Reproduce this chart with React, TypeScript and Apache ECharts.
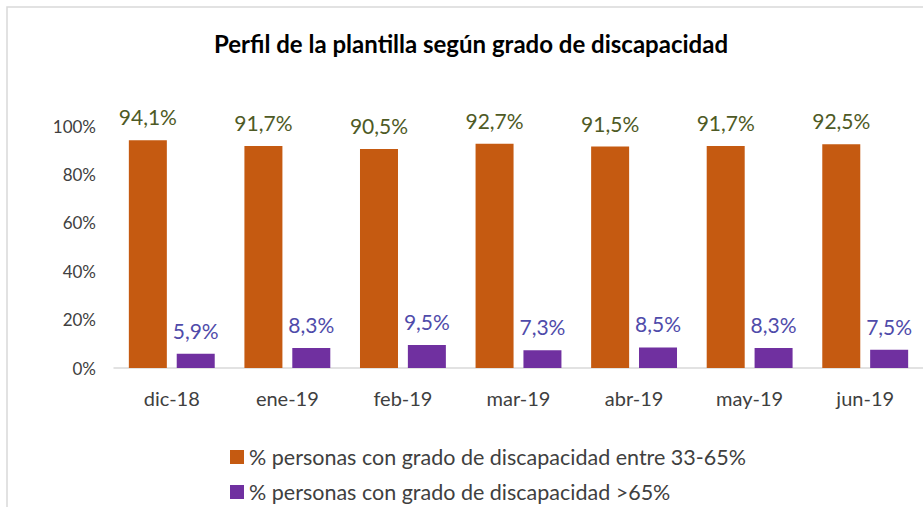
import React, { useEffect, useRef } from "react";
import * as echarts from "echarts";

const categories = ["dic-18", "ene-19", "feb-19", "mar-19", "abr-19", "may-19", "jun-19"];
const serie1Name = "% personas con grado de discapacidad entre 33-65%";
const serie2Name = "% personas con grado de discapacidad >65%";
const serie1Values = [94.1, 91.7, 90.5, 92.7, 91.5, 91.7, 92.5];
const serie2Values = [5.9, 8.3, 9.5, 7.3, 8.5, 8.3, 7.5];
const yMin = 0;
const yMax = 100;
const yInterval = 20;
const titleText = "Perfil de la plantilla según grado de discapacidad";

const FONT = "Lato, 'Noto Sans', sans-serif";

export default function App() {
  const ref = useRef<HTMLDivElement>(null);
  useEffect(() => {
    if (!ref.current) return;
    const chart = echarts.init(ref.current, undefined, { renderer: "svg" });
    const fmt = (p: any) => Number(p.value).toFixed(1).replace(".", ",") + "%";
    const legendBase = {
      orient: "horizontal",
      left: 230,
      padding: 0,
      itemWidth: 14,
      itemHeight: 14,
      icon: "rect",
      textStyle: { fontFamily: FONT, fontSize: 21.5, color: "#404040" },
    };
    chart.setOption({
      animation: false,
      backgroundColor: "#ffffff",
      title: {
        text: titleText,
        left: 466,
        top: 26,
        textAlign: "center",
        textStyle: { fontFamily: FONT, fontWeight: "bold", fontSize: 24, color: "#000000" },
      },
      graphic: [
        {
          type: "rect",
          shape: { x: 7, y: 7, width: 940, height: 520 },
          style: { fill: "none", stroke: "#D9D9D9", lineWidth: 1.5 },
          z: -1,
        },
      ],
      grid: { left: 114, right: 0, top: 126, bottom: 139, containLabel: false },
      legend: [
        { ...legendBase, top: 446, data: [serie1Name] },
        { ...legendBase, top: 481, data: [serie2Name] },
      ],
      xAxis: {
        type: "category",
        data: categories,
        axisLine: { show: true, lineStyle: { color: "#D9D9D9", width: 1.5 } },
        axisTick: { show: false },
        axisLabel: { fontFamily: FONT, fontSize: 20, color: "#404040", margin: 20 },
      },
      yAxis: {
        type: "value",
        min: yMin,
        max: yMax,
        interval: yInterval,
        axisLine: { show: false },
        axisTick: { show: false },
        splitLine: { show: false },
        axisLabel: { fontFamily: FONT, fontSize: 17, color: "#404040", margin: 18, formatter: "{value}%" },
      },
      series: [
        {
          name: serie1Name,
          type: "bar",
          data: serie1Values,
          barWidth: 38,
          barGap: "26%",
          itemStyle: { color: "#C55A11" },
          label: {
            show: true,
            position: "top",
            distance: 13,
            formatter: fmt,
            fontFamily: FONT,
            fontSize: 21,
            color: "#4E5A25",
          },
        },
        {
          name: serie2Name,
          type: "bar",
          data: serie2Values,
          barWidth: 38,
          barGap: "26%",
          itemStyle: { color: "#7030A0" },
          label: {
            show: true,
            position: "top",
            distance: 13,
            formatter: fmt,
            fontFamily: FONT,
            fontSize: 21,
            color: "#4F4BAA",
          },
        },
      ],
    });
    return () => chart.dispose();
  }, []);
  return (
    <div
      ref={ref}
      style={{ position: "fixed", left: 0, top: 0, width: 923, height: 507, background: "#fff" }}
    />
  );
}
